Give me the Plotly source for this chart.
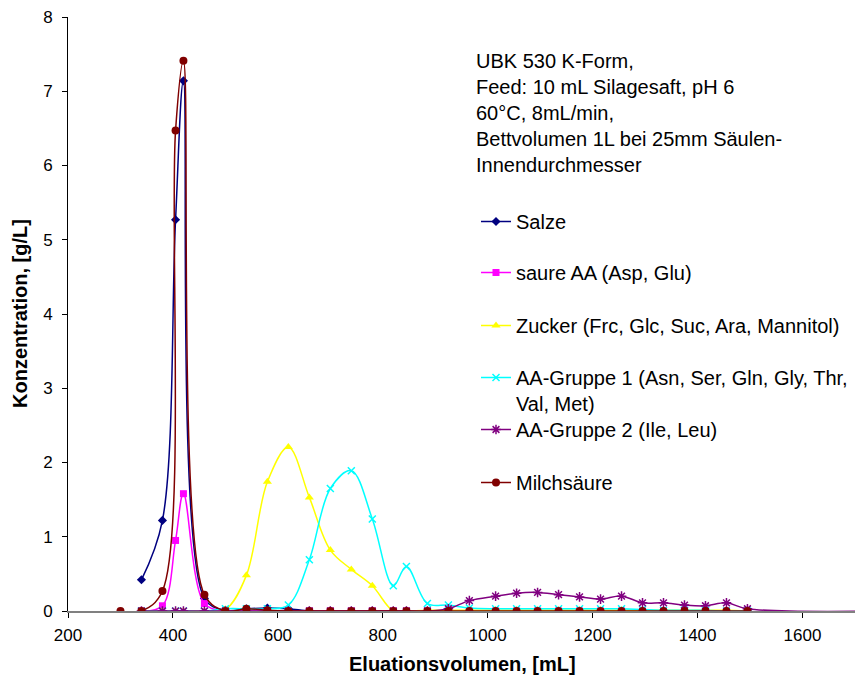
import plotly.graph_objects as go

# ---- data ----
x_milch = [300, 340, 380, 405, 420, 460, 500, 540, 580, 620, 660, 700, 740, 780, 820, 845,
           885, 925, 965, 1015, 1055, 1095, 1135, 1175, 1215, 1255, 1295, 1335, 1375, 1415, 1455, 1495]
x_main = x_milch[1:]
x_aa2 = x_main + [1760]

salze = [0.42, 1.22, 5.27, 7.14, 0.17, 0.01, 0.03, 0.04, 0.03, 0.0, 0.0, 0.0, 0.0, 0.0, 0.0,
         0.0, 0.0, 0.0, 0.0, 0.0, 0.0, 0.0, 0.0, 0.0, 0.0, 0.0, 0.0, 0.0, 0.0, 0.0, 0.0]
saure_aa = [0.0, 0.07, 0.95, 1.58, 0.10, 0.0, 0.0, 0.0, 0.0, 0.0, 0.0, 0.0, 0.0, 0.0, 0.0,
            0.0, 0.0, 0.0, 0.0, 0.0, 0.0, 0.0, 0.0, 0.0, 0.0, 0.0, 0.0, 0.0, 0.0, 0.0, 0.0]
zucker = [0.0, 0.0, 0.0, 0.0, 0.0, 0.02, 0.48, 1.74, 2.21, 1.53, 0.82, 0.56, 0.34, 0.0, 0.0,
          0.01, 0.01, 0.01, 0.01, 0.01, 0.01, 0.01, 0.01, 0.01, 0.01, 0.01, 0.01, 0.01, 0.01, 0.01, 0.0]
aa_gruppe1 = [0.0, 0.0, 0.0, 0.0, 0.0, 0.03, 0.03, 0.03, 0.08, 0.69, 1.65, 1.89, 1.24, 0.34, 0.60,
              0.10, 0.08, 0.04, 0.03, 0.03, 0.03, 0.03, 0.03, 0.03, 0.03, 0.02, 0.01, 0.01, 0.01, 0.0, 0.0]
aa_gruppe2 = [0.0, 0.0, 0.0, 0.0, 0.0, 0.0, 0.0, 0.0, 0.0, 0.0, 0.0, 0.0, 0.0, 0.0, 0.0,
              0.0, 0.03, 0.14, 0.20, 0.24, 0.25, 0.22, 0.19, 0.16, 0.20, 0.11, 0.11, 0.08, 0.07, 0.11, 0.03, 0.0]
milchsaeure = [0.0, 0.0, 0.27, 6.47, 7.41, 0.22, 0.0, 0.03, 0.01, 0.0, 0.0, 0.0, 0.0, 0.0, 0.0, 0.0,
               0.0, 0.0, 0.0, 0.0, 0.0, 0.0, 0.0, 0.0, 0.0, 0.0, 0.0, 0.0, 0.0, 0.0, 0.0, 0.0]

x_ticks = [200, 400, 600, 800, 1000, 1200, 1400, 1600]
y_ticks = [0, 1, 2, 3, 4, 5, 6, 7, 8]

info_lines = ["UBK 530 K-Form,", "Feed: 10 mL Silagesaft, pH 6", "60°C, 8mL/min,",
              "Bettvolumen 1L bei 25mm Säulen-", "Innendurchmesser"]
x_title = "Eluationsvolumen, [mL]"
y_title = "Konzentration, [g/L]"

FONT = "Arial, Liberation Sans, sans-serif"

# plot area in pixels
L, R, T, B = 68, 855, 17, 611
PW, PH = R - L, B - T


def px_x(p):
    return (p - L) / PW


def px_y(p):
    return (B - p) / PH


series = [
    ("Salze", x_main, salze, "#000080", dict(symbol="diamond", size=7, color="#000080")),
    ("saure AA (Asp, Glu)", x_main, saure_aa, "#FF00FF", dict(symbol="square", size=7, color="#FF00FF")),
    ("Zucker (Frc, Glc, Suc, Ara, Mannitol)", x_main, zucker, "#FFFF00",
     dict(symbol="triangle-up", size=8, color="#FFFF00")),
    ("AA-Gruppe 1 (Asn, Ser, Gln, Gly, Thr,<br>Val, Met)", x_main, aa_gruppe1, "#00FFFF",
     dict(symbol="x-thin-open", size=7, color="#00FFFF", line=dict(color="#00FFFF", width=1.5))),
    ("AA-Gruppe 2 (Ile, Leu)", x_aa2, aa_gruppe2, "#800080",
     dict(symbol="asterisk-open", size=8, color="#800080", line=dict(color="#800080", width=1.5))),
    ("Milchsäure", x_milch, milchsaeure, "#800000", dict(symbol="circle", size=8, color="#800000")),
]

legend_y = [222, 273, 326, 378, 430, 483]  # pixel centres of legend rows

fig = go.Figure()
layout_legends = {}
for i, (name, xs, ys, col, mk) in enumerate(series):
    lname = "legend" if i == 0 else f"legend{i+1}"
    fig.add_trace(go.Scatter(
        x=xs, y=ys, name=name, mode="lines+markers",
        line=dict(color=col, width=1.5, shape="spline", smoothing=1.0),
        marker=mk, legend=lname, cliponaxis=True,
    ))
    layout_legends[lname] = dict(
        x=px_x(476), xanchor="left",
        y=px_y(legend_y[i] - 20), yanchor="top",
        bgcolor="rgba(0,0,0,0)", borderwidth=0,
        font=dict(family=FONT, size=20, color="black"),
        itemwidth=30, valign="top", tracegroupgap=0,
    )

annotations = []
for k, t in enumerate(info_lines):
    annotations.append(dict(
        text=t, xref="paper", yref="paper",
        x=px_x(474), xanchor="left",
        y=px_y(61 + 26 * k), yanchor="middle",
        showarrow=False, align="left",
        font=dict(family=FONT, size=20, color="black"),
    ))
annotations.append(dict(
    text=f"<b>{x_title}</b>", xref="paper", yref="paper",
    x=px_x(462), xanchor="center", y=px_y(664), yanchor="middle",
    showarrow=False, font=dict(family=FONT, size=20, color="black"),
))
annotations.append(dict(
    text=f"<b>{y_title}</b>", xref="paper", yref="paper", textangle=-90,
    x=px_x(20), xanchor="center", y=px_y(314), yanchor="middle",
    showarrow=False, font=dict(family=FONT, size=20, color="black"),
))

fig.update_layout(
    width=866, height=679,
    margin=dict(l=L, r=866 - R, t=T, b=679 - B, autoexpand=False),
    paper_bgcolor="white", plot_bgcolor="white",
    font=dict(family=FONT, size=17, color="black"),
    showlegend=True,
    annotations=annotations,
    **layout_legends,
)
fig.update_xaxes(
    range=[200, 1700], tickmode="array", tickvals=x_ticks,
    ticks="outside", ticklen=5, tickcolor="black",
    showline=True, linecolor="#808080", linewidth=1.5,
    showgrid=False, zeroline=False, automargin=False,
    tickfont=dict(family=FONT, size=17), ticklabelstandoff=3,
)
fig.update_yaxes(
    range=[0, 8], tickmode="array", tickvals=y_ticks,
    ticks="outside", ticklen=5, tickcolor="black",
    showline=True, linecolor="black", linewidth=1,
    showgrid=False, zeroline=False, automargin=False,
    tickfont=dict(family=FONT, size=17), ticklabelstandoff=6,
)

fig.write_html(
    "out.html",
    config={"displayModeBar": False},
    post_script="document.body.style.margin='0';document.body.style.padding='0';",
)
